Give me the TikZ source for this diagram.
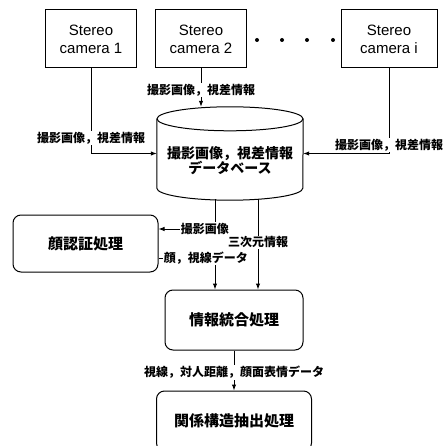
\documentclass[tikz,border=0pt]{standalone}
\usepackage{fontspec}
\setmainfont{Liberation Sans}
\newfontfamily\cjk{Noto Sans CJK JP}
\usetikzlibrary{arrows.meta,positioning}

\begin{document}
\begin{tikzpicture}[x=1pt,y=-1pt,
    camera/.style={rectangle,draw,line width=1pt,
      minimum width=91pt,minimum height=58pt,align=center,
      font=\fontsize{15}{18}\selectfont},
    process/.style={rectangle,rounded corners=8pt,draw,line width=1pt,
      font=\cjk\bfseries\fontsize{15}{18}\selectfont},
    lbl/.style={fill=white,inner sep=1pt,
      font=\cjk\bfseries\fontsize{12}{14}\selectfont},
    arr/.style={-{Latex[length=6pt,width=4.5pt]},line width=1pt}
  ]
    \useasboundingbox (0,0) rectangle (442,446);
    \clip (0,0) rectangle (442,446);

    \node[camera] (cam1) at (91,39) {Stereo\\camera 1};
    \node[camera,right=18pt of cam1] (cam2) {Stereo\\camera 2};
    \node[camera,minimum width=96pt] (cami) at (389,39) {Stereo\\camera i};
    \foreach \x in {257,282,307,333}
      \fill (\x,40) circle (2pt);

    % database
    \node[minimum width=146pt,minimum height=93pt,inner sep=0pt] (dbase) at (230,153.5) {};
    \draw[line width=1pt] ([yshift=-12pt]dbase.north) ellipse (73pt and 12pt);
    \draw[line width=1pt] ([yshift=-12pt]dbase.north west) -- ([yshift=12pt]dbase.south west)
      arc[start angle=180,end angle=360,x radius=73pt,y radius=12pt]
      -- ([yshift=-12pt]dbase.north east);
    \node[align=center,font=\cjk\bfseries\fontsize{14}{15}\selectfont]
      (dbtext) at ([yshift=-7pt]dbase.center) {撮影画像，視差情報\\データベース};

    \node[process,minimum width=145pt,minimum height=57pt] (face) at (85.5,243.5) {顔認証処理};
    \node[process,minimum width=138pt,minimum height=60pt] (info) at (234,320) {情報統合処理};
    \node[process,below=40pt of info,minimum width=155pt,minimum height=60pt] (rel)
      {関係構造抽出処理};

    \coordinate (dbout1) at (215,199);
    \coordinate (dbout2) at (258,199);

    \draw[arr] (cam2.south) -- node[lbl,pos=0.56]{撮影画像，視差情報} (cam2.south |- dbase.north);
    \draw[arr] (cam1.south) |- node[lbl,pos=0.41]{撮影画像，視差情報} (dbase.west);
    \draw[arr] (cami.south) |- node[lbl,pos=0.45]{撮影画像，視差情報} (dbase.east);

    \draw[arr] (dbout1) |- node[lbl,pos=0.59]{撮影画像} ([yshift=14.5pt]face.east);
    \draw[arr] ([yshift=-14.5pt]face.east) -| node[lbl,pos=0.42]{顔，視線データ} (info.north -| dbout1);
    \draw[arr] (dbout2) -- node[lbl,pos=0.48]{三次元情報} (info.north -| dbout2);
    \draw[arr] (info) -- node[lbl,pos=0.55]{視線，対人距離，顔面表情データ} (rel);
  \end{tikzpicture}
\end{document}
